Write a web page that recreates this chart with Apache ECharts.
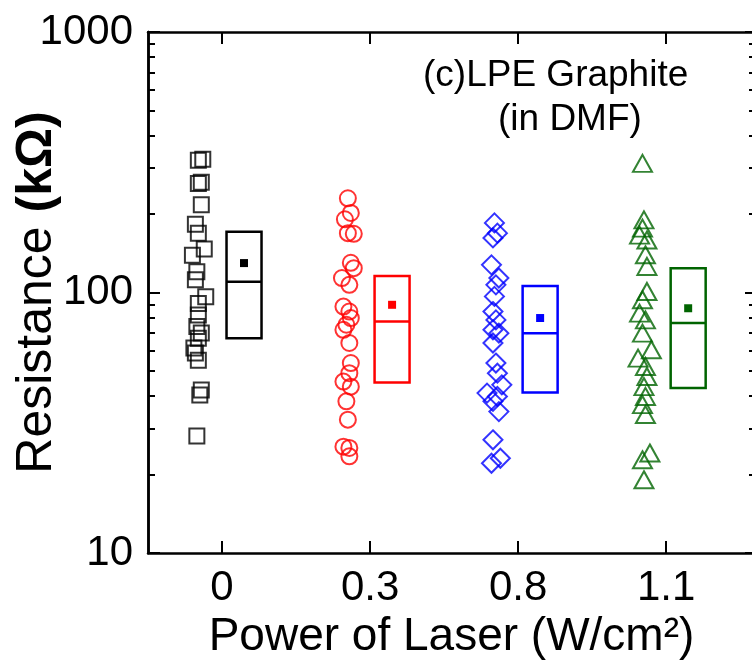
<!DOCTYPE html>
<html>
<head>
<meta charset="utf-8">
<title>Resistance vs laser power</title>
<script src="https://cdn.jsdelivr.net/npm/echarts@6/dist/echarts.min.js"></script>
<style>
  html, body { margin: 0; padding: 0; background: #fff; }
  #chart { width: 752px; height: 666px; }
</style>
</head>
<body>
<div id="chart"></div>
<script>
  // laser power categories (W/cm2)
  var powerLabels = ['0', '0.3', '0.8', '1.1'];

  // resistance of each device (kOhm), one list per power
  var res0 = [325, 322, 265, 262, 217, 183, 169, 147, 139, 120, 112, 96.4, 90.8, 82, 74, 69.9, 66.8, 61.2, 58.6, 55, 42.2, 40.4, 28.1];
  var res03 = [230, 202, 191, 169, 168, 130, 124, 113.6, 107, 88.3, 84.5, 79.8, 75.2, 71.9, 64, 53.6, 49, 45.5, 43.5, 38.2, 32.5, 25.6, 25.3, 23.5];
  var res08 = [185, 169, 162, 127.7, 113.6, 107, 96.6, 84.5, 78.5, 71.9, 69.8, 64, 53.6, 49, 44.2, 41.1, 39.9, 38.2, 34.9, 27.2, 23.1, 22.1];
  var res11 = [313, 190, 176.7, 166, 159, 139.6, 125.9, 100.9, 93.8, 83.3, 78.5, 69.8, 60.3, 56, 52, 47.6, 43.5, 39.9, 37.1, 34, 24.2, 22.8, 19.1];

  // horizontal spread of the points, in category units
  var jit0 = [-0.13, -0.16, -0.14, -0.16, -0.14, -0.18, -0.16, -0.12, -0.2, -0.17, -0.18, -0.11, -0.16, -0.16, -0.17, -0.14, -0.16, -0.19, -0.18, -0.16, -0.14, -0.15, -0.17];
  var jit03 = [-0.15, -0.13, -0.17, -0.15, -0.11, -0.13, -0.11, -0.19, -0.14, -0.18, -0.14, -0.13, -0.16, -0.18, -0.14, -0.13, -0.14, -0.18, -0.13, -0.16, -0.15, -0.18, -0.14, -0.14];
  var jit08 = [-0.16, -0.14, -0.17, -0.18, -0.13, -0.15, -0.16, -0.17, -0.15, -0.17, -0.13, -0.17, -0.15, -0.14, -0.11, -0.21, -0.14, -0.17, -0.13, -0.17, -0.12, -0.18];
  var jit11 = [-0.16, -0.15, -0.16, -0.18, -0.13, -0.14, -0.13, -0.13, -0.16, -0.18, -0.14, -0.16, -0.1, -0.19, -0.14, -0.13, -0.15, -0.14, -0.16, -0.14, -0.11, -0.16, -0.15];

  // box statistics per power
  var q1 = [66.8, 45.1, 41.3, 43];
  var median = [110, 77.4, 69.8, 76.3];
  var q3 = [171, 115.6, 106, 124];
  var mean = [129.7, 89.7, 79.8, 87];

  // minor ticks on the log axis
  var yMinorTicks = [20, 30, 40, 50, 60, 70, 80, 90, 200, 300, 400, 500, 600, 700, 800, 900];
  var xTicks = [1, 2, 3, 4];

  var groups = [res0, res03, res08, res11];
  var jitters = [jit0, jit03, jit08, jit11];
  var colors = ['#000000', '#ff0000', '#0000ff', '#006400'];
  var symbols = ['rect', 'circle', 'diamond', 'triangle'];
  var symSizes = [15, 16, 19, [19, 17]];
  var FONT = 'Liberation Sans, Arial, sans-serif';

  var series = [];
  groups.forEach(function (vals, i) {
    var pts = vals.map(function (v, j) {
      return [i + 1 + jitters[i][j], v];
    });
    series.push({
      type: 'scatter',
      data: pts,
      symbol: symbols[i],
      symbolSize: symSizes[i],
      itemStyle: {
        color: 'rgba(0,0,0,0)',
        borderColor: colors[i],
        borderWidth: 2
      },
      z: 3
    });
    series.push({
      type: 'custom',
      data: [[i + 1, q1[i], median[i], q3[i], mean[i]]],
      encode: { x: 0, y: [1, 2, 3, 4] },
      renderItem: function (params, api) {
        var x = api.value(0);
        var pLo = api.coord([x, api.value(1)]);
        var pMed = api.coord([x, api.value(2)]);
        var pHi = api.coord([x, api.value(3)]);
        var pMean = api.coord([x, api.value(4)]);
        var cx = pLo[0] + 22;
        var w = 35;
        var c = colors[i];
        return {
          type: 'group',
          children: [
            { type: 'rect', shape: { x: cx - w / 2, y: pHi[1], width: w, height: pLo[1] - pHi[1] },
              style: { fill: 'none', stroke: c, lineWidth: 2.5 } },
            { type: 'line', shape: { x1: cx - w / 2, y1: pMed[1], x2: cx + w / 2, y2: pMed[1] },
              style: { stroke: c, lineWidth: 2.5 } },
            { type: 'rect', shape: { x: cx - 4, y: pMean[1] - 4, width: 8, height: 8 },
              style: { fill: c } }
          ]
        };
      },
      z: 2
    });
  });

  var lineStyle = { color: '#000', width: 2.5 };

  function yAxisBase(pos, tickLen, customTicks, labels) {
    return {
      type: 'log',
      logBase: 10,
      min: 10,
      max: 1000,
      position: pos,
      axisLine: { show: true, lineStyle: lineStyle },
      axisTick: customTicks
        ? { show: true, inside: true, length: tickLen, customValues: customTicks, lineStyle: { color: '#000', width: 2 } }
        : { show: true, inside: true, length: tickLen, lineStyle: { color: '#000', width: 2 } },
      axisLabel: labels
        ? { show: true, margin: 15, fontSize: 42, color: '#000', fontFamily: FONT,
            formatter: function (v) { return String(Math.round(v)); } }
        : { show: false },
      splitLine: { show: false }
    };
  }

  var leftMain = yAxisBase('left', 12, null, true);
  leftMain.name = 'Resistance {b|(kΩ)}';
  leftMain.nameLocation = 'middle';
  leftMain.nameGap = 86;
  leftMain.nameMoveOverlap = false;
  leftMain.nameTextStyle = {
    fontSize: 50, color: '#000', fontFamily: FONT,
    rich: { b: { fontSize: 50, fontWeight: 'bold', color: '#000', fontFamily: FONT } }
  };

  var chart = echarts.init(document.getElementById('chart'));
  chart.setOption({
    animation: false,
    backgroundColor: '#fff',
    grid: { left: 148, top: 32, right: -3, bottom: 113, outerBoundsMode: 'none', containLabel: false },
    xAxis: [
      {
        type: 'value',
        min: 0.5,
        max: 4.6,
        position: 'bottom',
        axisLine: { show: true, lineStyle: lineStyle },
        axisTick: { show: true, inside: true, length: 12, customValues: xTicks, lineStyle: { color: '#000', width: 2 } },
        axisLabel: {
          show: true, margin: 14, fontSize: 42, color: '#000', fontFamily: FONT,
          customValues: xTicks,
          formatter: function (v) { return powerLabels[Math.round(v) - 1]; }
        },
        splitLine: { show: false },
        name: 'Power of Laser (W/cm²)',
        nameLocation: 'middle',
        nameGap: 61,
        nameMoveOverlap: false,
        nameTextStyle: { fontSize: 46, color: '#000', fontFamily: FONT }
      },
      {
        type: 'value',
        min: 0.5,
        max: 4.6,
        position: 'top',
        axisLine: { show: true, lineStyle: lineStyle },
        axisTick: { show: true, inside: true, length: 12, customValues: xTicks, lineStyle: { color: '#000', width: 2 } },
        axisLabel: { show: false },
        splitLine: { show: false }
      }
    ],
    yAxis: [
      leftMain,
      yAxisBase('left', 7, yMinorTicks, false),
      yAxisBase('right', 10, null, false),
      yAxisBase('right', 6, yMinorTicks, false)
    ],
    graphic: [
      { type: 'text', x: 423, y: 76,
        style: { text: '(c)LPE Graphite', fontSize: 37, fontFamily: FONT, fill: '#000', align: 'left', verticalAlign: 'middle' } },
      { type: 'text', x: 498, y: 120,
        style: { text: '(in DMF)', fontSize: 37, fontFamily: FONT, fill: '#000', align: 'left', verticalAlign: 'middle' } }
    ],
    series: series
  });
</script>
</body>
</html>
